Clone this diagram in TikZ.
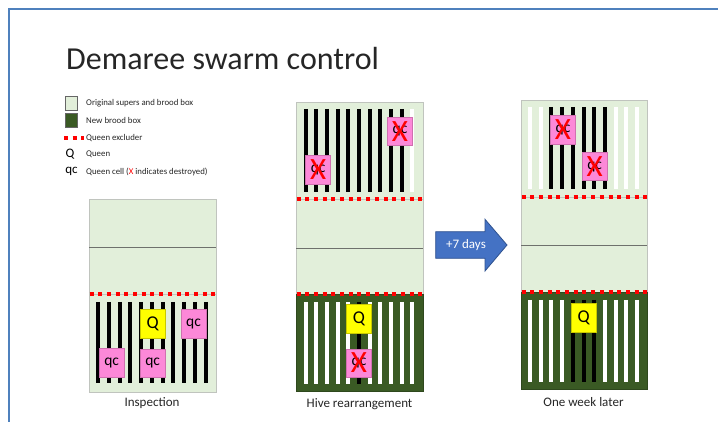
\documentclass[tikz,border=0pt]{standalone}
\usepackage{fontspec}
\setmainfont{Carlito}
\definecolor{lightg}{HTML}{E2EFDA}
\definecolor{darkg}{HTML}{3A5A24}
\definecolor{boxedge}{HTML}{C0C4BE}
\definecolor{divgray}{HTML}{6E716C}
\definecolor{pinkc}{HTML}{FC88D8}
\definecolor{pinkedge}{HTML}{D070B0}
\definecolor{yelc}{HTML}{FFFF00}
\definecolor{yeledge}{HTML}{C8C800}
\definecolor{arrowblue}{HTML}{4472C4}
\definecolor{arrowedge}{HTML}{2F528F}
\definecolor{frameblue}{HTML}{4F81BD}
\definecolor{exred}{HTML}{FF0000}
\tikzset{
  hiveedge/.style={draw=boxedge, line width=0.8pt},
  divider/.style={draw=divgray, line width=0.9pt},
  excl/.style={draw=exred, line width=4pt, dash pattern=on 4pt off 4.7pt},
  bframe/.style={draw=black, line width=4pt},
  wframe/.style={draw=white, line width=4pt},
  qbox/.style={draw=yeledge, line width=0.5pt, fill=yelc, minimum width=25pt, minimum height=28.5pt, inner sep=0pt, font=\fontsize{18}{20}\selectfont},
  qcbox/.style={draw=pinkedge, line width=0.5pt, fill=pinkc, minimum width=25pt, minimum height=28.5pt, inner sep=0pt, font=\fontsize{15.5}{17}\selectfont},
  xmark/.style={text=exred, inner sep=0pt, font=\fontsize{31}{33}\selectfont},
  legtext/.style={anchor=west, inner sep=0pt, font=\fontsize{8.8}{10}\selectfont, text=black!85},
  caption/.style={inner sep=0pt, font=\fontsize{13}{15}\selectfont, text=black!85},
  swatch/.style={draw=black!60, line width=0.6pt, minimum width=12pt, minimum height=14pt, inner sep=0pt}
}
\begin{document}
\begin{tikzpicture}[x=1pt,y=-1pt]
\useasboundingbox (0,0) rectangle (718,422);
\fill[white] (0,0) rectangle (718,422);
\draw[frameblue, line width=2pt] (9,422) -- (9,9) -- (718,9);

% title
\node[anchor=base west, inner sep=0pt, font=\fontsize{32}{36}\selectfont, text=black!85] (title) at (66,70) {Demaree swarm control};

% legend
\node[swatch, fill=lightg] (sw1) at (71,103.7) {};
\node[swatch, fill=darkg] (sw2) at (71,120) {};
\coordinate (exa) at (64,137.7);
\coordinate (exb) at (84,137.7);
\draw[excl] (exa) -- (exb);
\node[inner sep=0pt, font=\fontsize{13}{15}\selectfont] (legq) at (70,154) {Q};
\node[inner sep=0pt, font=\fontsize{13}{15}\selectfont] (legqc) at (71.5,171) {qc};
\node[legtext] (l1) at (86,103.7) {Original supers and brood box};
\node[legtext] (l2) at (86,120.5) {New brood box};
\node[legtext] (l3) at (86,137.7) {Queen excluder};
\node[legtext] (l4) at (86,154.5) {Queen};
\node[legtext] (l5) at (86,171.5) {Queen cell (\textcolor{exred}{X} indicates destroyed)};

% ---------- hive 1: inspection
\fill[lightg] (89,199) rectangle (216,392);
\draw[hiveedge] (89,199) rectangle (216,392);
\draw[divider] (89,247) -- (216,247);
\draw[hiveedge] (89,294) -- (216,294);
\foreach \i in {0,...,10} \draw[bframe] ({98.3+10.73*\i},302) -- ++(0,81);
\draw[excl] (89.5,294) -- (216,294);
\node[qcbox] (h1qc1) at (111.7,362.7) {qc};
\node[qbox] (h1q) at (152.7,323.7) {Q};
\node[qcbox] (h1qc2) at (193.5,324) {qc};
\node[qcbox] (h1qc3) at (152.7,363.2) {qc};
\node[caption] (cap1) at (152,403) {Inspection};

% ---------- hive 2: rearrangement
\fill[lightg] (296,102) rectangle (423,294);
\fill[darkg] (296,294) rectangle (423,391);
\draw[hiveedge] (296,102) rectangle (423,294);
\draw[draw=darkg!80!black, line width=0.8pt] (296,294) rectangle (423,391);
\draw[divider] (296,248) -- (423,248);
\draw[hiveedge] (296,199) -- (423,199);
\foreach \i in {0,...,9} \draw[bframe] ({305.7+10.67*\i},109) -- ++(0,83);
\draw[wframe] ({305.7+10.67*10},109) -- ++(0,83);
\foreach \i in {0,1,2,3,4,6,7,8,9,10} \draw[wframe] ({305.7+10.67*\i},302) -- ++(0,82);
\draw[bframe] ({305.7+10.67*5},302) -- ++(0,82);
\draw[excl] (296.5,199) -- (423,199);
\draw[excl] (296.5,294) -- (423,294);
\node[qcbox] (h2qc1) at (318.2,170) {qc};
\node[xmark] (h2x1) at (h2qc1) {X};
\node[qcbox] (h2qc2) at (400,131.2) {qc};
\node[xmark] (h2x2) at (h2qc2) {X};
\node[qbox] (h2q) at (359,319) {Q};
\node[qcbox] (h2qc3) at (359,363) {qc};
\node[xmark] (h2x3) at (h2qc3) {X};
\node[caption] (cap2) at (359.5,404) {Hive rearrangement};

% ---------- arrow
\draw[fill=arrowblue, draw=arrowedge, line width=0.8pt] (435.7,231.7) -- (485,231.7) -- (485,219.3) -- (507,245) -- (485,271) -- (485,258.3) -- (435.7,258.3) -- cycle;
\node[inner sep=0pt, text=white, font=\fontsize{13}{15}\selectfont] (days) at (466,245) {+7 days};

% ---------- hive 3: one week later
\fill[lightg] (521,100) rectangle (647,292);
\fill[darkg] (521,292) rectangle (647,389);
\draw[hiveedge] (521,100) rectangle (647,292);
\draw[draw=darkg!80!black, line width=0.8pt] (521,292) rectangle (647,389);
\draw[divider] (521,245) -- (647,245);
\draw[hiveedge] (521,197) -- (647,197);
\foreach \i in {0,1,8,9,10} \draw[wframe] ({530+10.7*\i},107) -- ++(0,82);
\foreach \i in {2,...,7} \draw[bframe] ({530+10.7*\i},107) -- ++(0,82);
\foreach \i in {0,1,2,3,7,8,9,10} \draw[wframe] ({530+10.7*\i},300) -- ++(0,82);
\foreach \i in {4,5,6} \draw[bframe] ({530+10.7*\i},300) -- ++(0,82);
\draw[excl] (521.5,197) -- (647,197);
\draw[excl] (521.5,292) -- (647,292);
\node[qcbox] (h3qc1) at (563,130) {qc};
\node[xmark] (h3x1) at (h3qc1) {X};
\node[qcbox] (h3qc2) at (594.7,166.5) {qc};
\node[xmark] (h3x2) at (h3qc2) {X};
\node[qbox] (h3q) at (583.8,317.8) {Q};
\node[caption] (cap3) at (583.5,402) {One week later};
\end{tikzpicture}
\end{document}
